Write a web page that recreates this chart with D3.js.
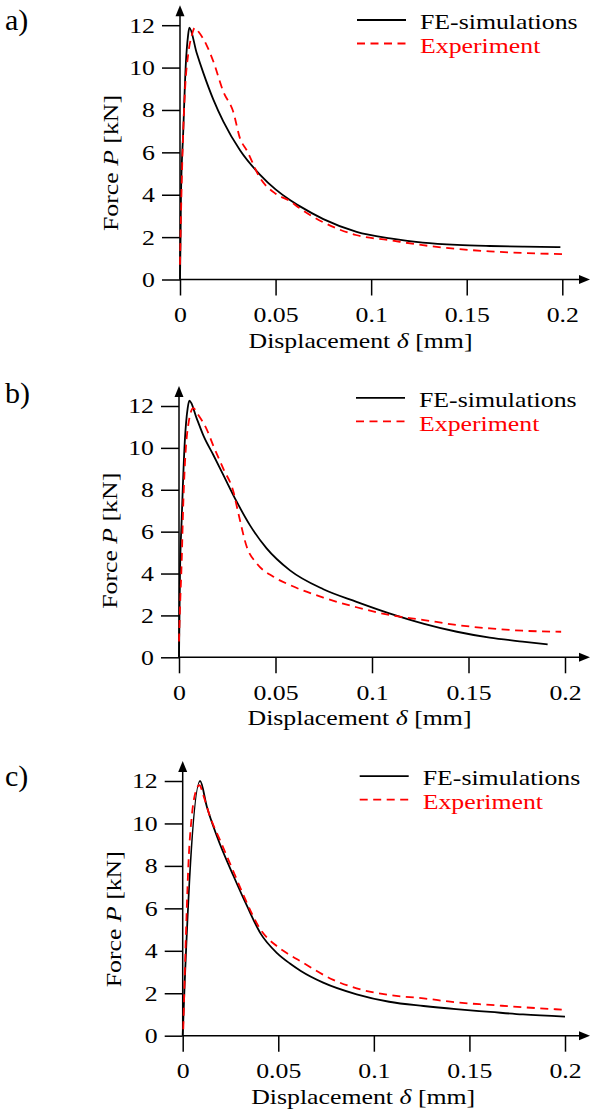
<!DOCTYPE html>
<html>
<head>
<meta charset="utf-8">
<script src="https://cdn.jsdelivr.net/npm/d3@7"></script>
<style>
body { margin: 0; background: #fff; }
text { font-family: "Liberation Serif", "Times New Roman", serif; fill: #000; }
</style>
</head>
<body>
<svg id="svg" width="591" height="1113"></svg>
<script>
// tick values / labels
var xTicks = [0, 0.05, 0.1, 0.15, 0.2];
var xTickLabels = ["0", "0.05", "0.1", "0.15", "0.2"];
var yTicks = [0, 2, 4, 6, 8, 10, 12];
var panelNames = ["a)", "b)", "c)"];
var seriesNames = ["FE-simulations", "Experiment"];

// panel a) - displacement [mm], force [kN]
var feA_d = [0, 0.0003, 0.0005, 0.0017, 0.003, 0.0042, 0.0049, 0.0087, 0.0122, 0.0174, 0.0227, 0.0314, 0.0418, 0.05, 0.0575, 0.0628, 0.075, 0.0924, 0.11, 0.127, 0.145, 0.162, 0.18, 0.199];
var feA_p = [0, 2.0, 3.9, 7.0, 10.1, 11.5, 11.88, 10.7, 9.75, 8.5, 7.45, 6.1, 4.95, 4.25, 3.75, 3.45, 2.85, 2.25, 1.94, 1.74, 1.63, 1.58, 1.55, 1.53];
var expA_d = [0, 0.0005, 0.0014, 0.0026, 0.0044, 0.0061, 0.0078, 0.0096, 0.0139, 0.0174, 0.0227, 0.0279, 0.0314, 0.0349, 0.0418, 0.05, 0.0575, 0.0628, 0.075, 0.092, 0.11, 0.127, 0.145, 0.162, 0.18, 0.2];
var expA_p = [0.7, 3.0, 6.2, 8.9, 10.7, 11.5, 11.88, 11.7, 11.06, 10.3, 8.86, 7.9, 6.66, 6.1, 4.8, 4.05, 3.7, 3.35, 2.7, 2.1, 1.85, 1.62, 1.44, 1.33, 1.25, 1.2];

// panel b)
var feB_d = [0, 0.0005, 0.0014, 0.003, 0.0045, 0.0054, 0.0092, 0.0126, 0.0178, 0.023, 0.0299, 0.0368, 0.0454, 0.0575, 0.0748, 0.092, 0.109, 0.127, 0.144, 0.161, 0.178, 0.191];
var feB_p = [0, 3.93, 6.6, 10.3, 11.9, 12.25, 11.4, 10.6, 9.66, 8.7, 7.43, 6.3, 5.2, 4.15, 3.25, 2.65, 2.1, 1.6, 1.22, 0.94, 0.75, 0.62];
var expB_d = [0, 0.0005, 0.0014, 0.0022, 0.0031, 0.0048, 0.0074, 0.01, 0.0143, 0.0178, 0.023, 0.0282, 0.0307, 0.0351, 0.0402, 0.0489, 0.0575, 0.0748, 0.092, 0.109, 0.127, 0.144, 0.161, 0.178, 0.198];
var expB_p = [0.75, 2.3, 4.6, 7.3, 9.3, 11.1, 11.9, 11.57, 10.9, 10.1, 9.0, 7.9, 6.9, 5.28, 4.49, 3.85, 3.45, 2.85, 2.39, 2.02, 1.78, 1.54, 1.38, 1.27, 1.22];

// panel c)
var feC_d = [0, 0.0009, 0.0091, 0.0126, 0.0179, 0.0267, 0.0337, 0.0407, 0.0495, 0.0561, 0.0618, 0.0735, 0.091, 0.108, 0.126, 0.143, 0.161, 0.178, 0.2];
var feC_p = [0, 2.15, 12.0, 10.8, 9.4, 7.5, 6.1, 4.82, 3.88, 3.4, 3.05, 2.5, 1.95, 1.6, 1.4, 1.25, 1.12, 1.0, 0.9];
var expC_d = [0.0003, 0.0012, 0.0021, 0.003, 0.0047, 0.0065, 0.0088, 0.0109, 0.0144, 0.0196, 0.0267, 0.0319, 0.0407, 0.0495, 0.0561, 0.0618, 0.0788, 0.091, 0.108, 0.126, 0.143, 0.161, 0.178, 0.2];
var expC_p = [0.3, 3.25, 5.9, 8.1, 10.3, 11.4, 11.8, 11.3, 10.3, 9.2, 7.7, 6.6, 5.0, 4.2, 3.8, 3.5, 2.63, 2.23, 1.92, 1.76, 1.57, 1.45, 1.34, 1.22];

var svg = d3.select("#svg");
var stretch = 1.2;   // the original font is wider than Times
var fs = 21.5;

var panels = [
    {name: panelNames[0], fe: d3.zip(feA_d, feA_p), exp: d3.zip(expA_d, expA_p), left: 180, right: 562.3, bottom: 279.5, top: 25.2, labelY: 30},
    {name: panelNames[1], fe: d3.zip(feB_d, feB_p), exp: d3.zip(expB_d, expB_p), left: 179, right: 565, bottom: 657.3, top: 406, labelY: 403},
    {name: panelNames[2], fe: d3.zip(feC_d, feC_p), exp: d3.zip(expC_d, expC_p), left: 182.7, right: 565, bottom: 1035.7, top: 781, labelY: 786}
];

function addText(g, x, y, rot) {
    return g.append("text")
        .attr("transform", "translate(" + x + "," + y + ")" + (rot ? " rotate(" + rot + ")" : "") + " scale(" + stretch + ",1)")
        .style("font-size", fs + "px");
}

function drawPanel(p) {
    var g = svg.append("g");
    var x = d3.scaleLinear().domain([0, 0.2]).range([p.left, p.right]);
    var y = d3.scaleLinear().domain([0, 12]).range([p.bottom, p.top]);

    // x ticks
    var xa = g.append("g")
        .attr("transform", "translate(0," + p.bottom + ")")
        .call(d3.axisBottom(x).tickValues(xTicks).tickSize(16).tickPadding(11)
            .tickFormat(function(d, i) { return xTickLabels[i]; }));
    xa.select(".domain").remove();
    xa.attr("font-family", null).attr("font-size", null);
    xa.selectAll("line").attr("stroke", "#000").attr("stroke-width", 1.5);
    xa.selectAll("text").style("font-size", fs + "px").attr("transform", "scale(" + stretch + ",1)");

    // y ticks
    var ya = g.append("g")
        .attr("transform", "translate(" + p.left + ",0)")
        .call(d3.axisLeft(y).tickValues(yTicks).tickSize(18).tickPadding(7));
    ya.select(".domain").remove();
    ya.attr("font-family", null).attr("font-size", null);
    ya.selectAll("line").attr("stroke", "#000").attr("stroke-width", 1.5);
    ya.selectAll("text").style("font-size", fs + "px")
        .attr("x", -25 / stretch)
        .attr("transform", "scale(" + stretch + ",1)");

    // axis lines with arrow heads
    var xTip = 590, yTip = p.top - 20;
    g.append("line").attr("x1", p.left).attr("x2", xTip - 8).attr("y1", p.bottom).attr("y2", p.bottom)
        .attr("stroke", "#000").attr("stroke-width", 1.5);
    g.append("line").attr("x1", p.left).attr("x2", p.left).attr("y1", p.bottom).attr("y2", yTip + 8)
        .attr("stroke", "#000").attr("stroke-width", 1.5);
    g.append("path")
        .attr("d", "M" + xTip + "," + p.bottom + "L" + (xTip - 11) + "," + (p.bottom - 4.5) + "L" + (xTip - 11) + "," + (p.bottom + 4.5) + "Z")
        .attr("fill", "#000");
    g.append("path")
        .attr("d", "M" + p.left + "," + yTip + "L" + (p.left - 4.5) + "," + (yTip + 11) + "L" + (p.left + 4.5) + "," + (yTip + 11) + "Z")
        .attr("fill", "#000");

    // curves
    var line = d3.line()
        .x(function(d) { return x(d[0]); })
        .y(function(d) { return y(d[1]); })
        .curve(d3.curveMonotoneX);
    g.append("path").datum(p.fe).attr("d", line)
        .attr("fill", "none").attr("stroke", "#000").attr("stroke-width", 1.8).attr("stroke-linejoin", "round");
    g.append("path").datum(p.exp).attr("d", line)
        .attr("fill", "none").attr("stroke", "#ff0000").attr("stroke-width", 1.8).attr("stroke-dasharray", "8,5.5");

    // axis titles
    var xt = addText(g, p.left + 180.5, p.bottom + 68).attr("text-anchor", "middle");
    xt.append("tspan").text("Displacement ");
    xt.append("tspan").style("font-style", "italic").text("δ");
    xt.append("tspan").text(" [mm]");

    var yt = addText(g, p.left - 62, p.bottom - 116.5, -90).attr("text-anchor", "middle");
    yt.append("tspan").text("Force ");
    yt.append("tspan").style("font-style", "italic").text("P");
    yt.append("tspan").text(" [kN]");

    // legend
    var lx = p.left + 177, ly = p.bottom - 259.5;
    g.append("line").attr("x1", lx).attr("x2", lx + 49).attr("y1", ly).attr("y2", ly)
        .attr("stroke", "#000").attr("stroke-width", 1.8);
    addText(g, lx + 63, ly + 9).text(seriesNames[0]);
    g.append("line").attr("x1", lx).attr("x2", lx + 49).attr("y1", ly + 23.5).attr("y2", ly + 23.5)
        .attr("stroke", "#ff0000").attr("stroke-width", 1.8).attr("stroke-dasharray", "8,5.5");
    addText(g, lx + 63, ly + 33).style("fill", "#ff0000").text(seriesNames[1]);

    // panel label
    g.append("text").attr("x", 5).attr("y", p.labelY).style("font-size", "30px").text(p.name);
}

panels.forEach(drawPanel);
</script>
</body>
</html>
